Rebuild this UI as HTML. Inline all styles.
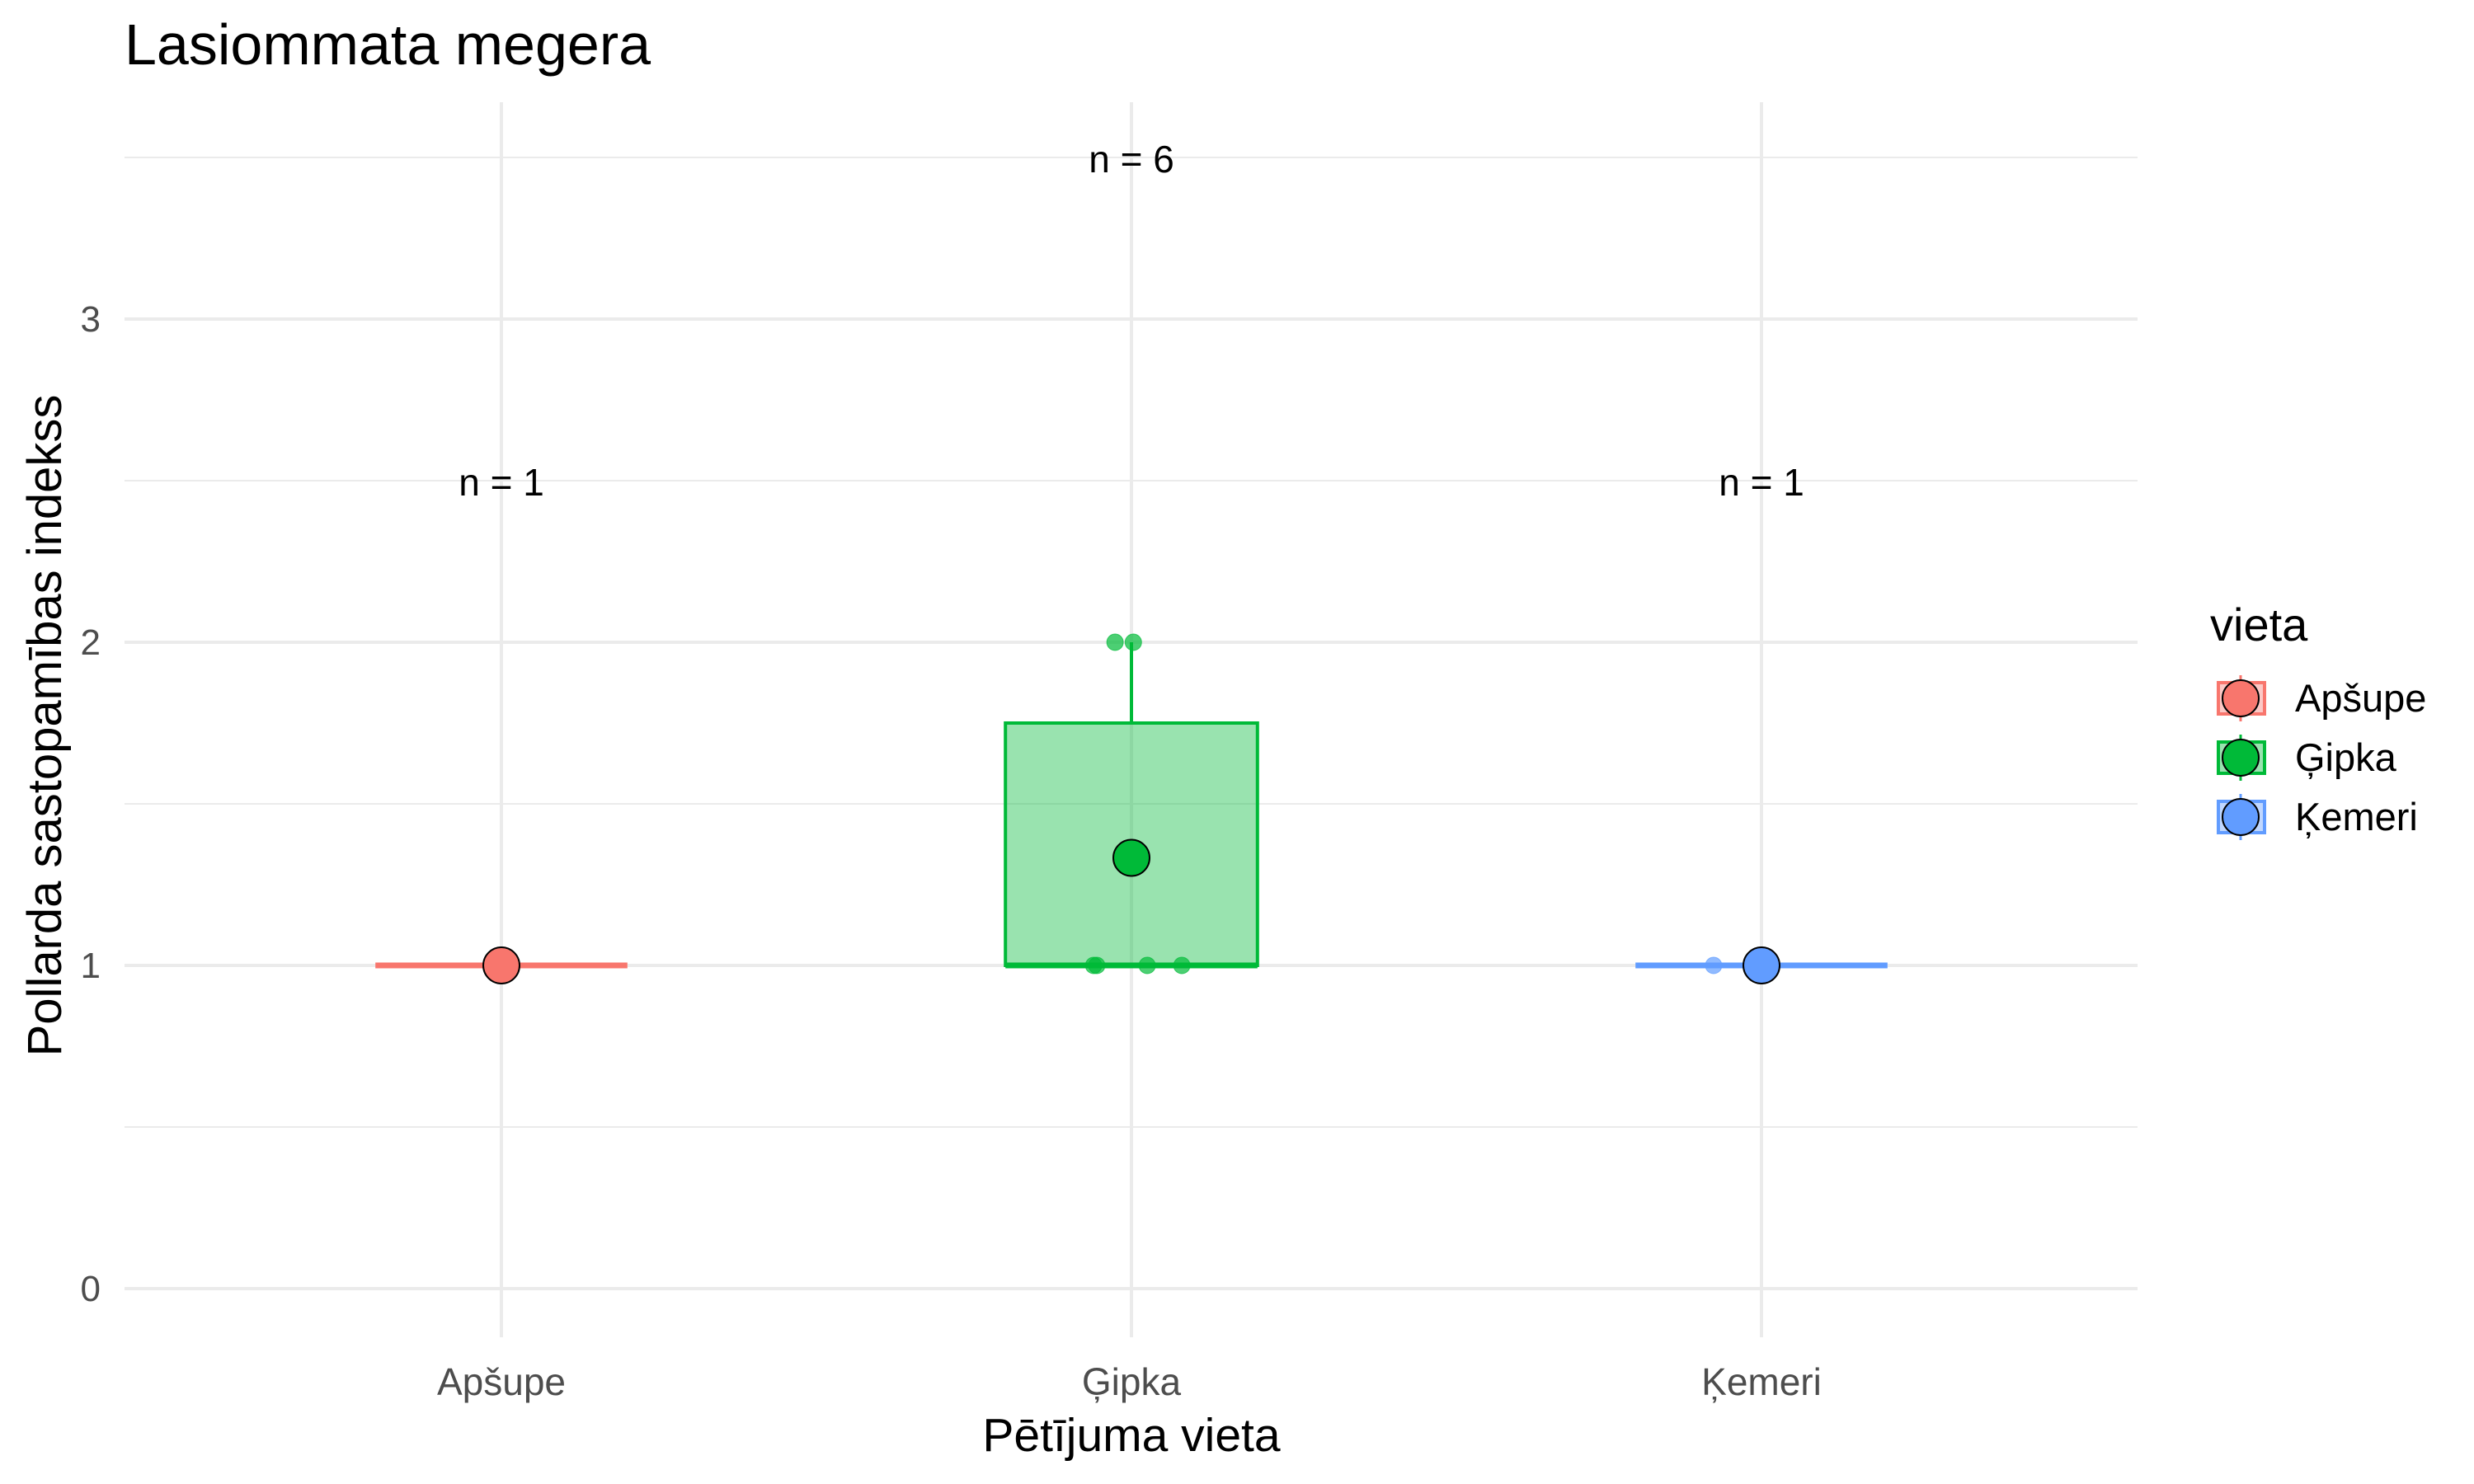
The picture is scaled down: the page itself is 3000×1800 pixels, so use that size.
<!DOCTYPE html>
<html><head><meta charset="utf-8"><style>
html,body{margin:0;padding:0;background:#fff;}
svg{display:block;font-family:"Liberation Sans",Arial,sans-serif;}
</style></head><body>
<svg id="chart" width="3000" height="1800" viewBox="0 0 3000 1800" xmlns="http://www.w3.org/2000/svg">
<text x="151" y="78" font-size="70" fill="#000">Lasiommata megera</text>
<g id="grid"></g>
<g id="marks"></g>
<g id="axes"></g>
<text x="0" y="0" transform="translate(74,880) rotate(-90)" text-anchor="middle" font-size="58" fill="#000">Pollarda sastopamības indekss</text>
<text x="1372" y="1760" text-anchor="middle" font-size="57" fill="#000">Pētījuma vieta</text>
<g id="legend">
<text x="2680" y="777" font-size="56" fill="#000">vieta</text>
</g>
</svg>
<script>
const categories = ["Apšupe", "Ģipka", "Ķemeri"];
const colors = ["#F8766D", "#00BA38", "#619CFF"];
const q1 = [1, 1, 1];
const median = [1, 1, 1];
const q3 = [1, 1.75, 1];
const whiskerLo = [1, 1, 1];
const whiskerHi = [1, 2, 1];
const means = [1, 1.333, 1];
const counts = [1, 6, 1];
const labelY = [2.5, 3.5, 2.5];
const pointCat = [0, 1, 1, 1, 1, 1, 1, 2];
const pointVal = [1, 1, 1, 1, 1, 2, 2, 1];
const pointJit = [0, -0.060, -0.055, 0.025, 0.080, -0.026, 0.003, -0.076];
const yTicks = [0, 1, 2, 3];
const yMinor = [0.5, 1.5, 2.5, 3.5];

const NS = "http://www.w3.org/2000/svg";
const X0 = 608, XSTEP = 764, Y0 = 1563, YUNIT = 392;
const PL = 151, PR = 2592, PT = 124, PB = 1622;
function xs(i){ return X0 + i * XSTEP; }
function ys(v){ return Y0 - v * YUNIT; }
function mk(tag, attrs, parent){
  const e = document.createElementNS(NS, tag);
  for (const k in attrs) e.setAttribute(k, attrs[k]);
  parent.appendChild(e);
  return e;
}
const grid = document.getElementById('grid');
const marks = document.getElementById('marks');
const axes = document.getElementById('axes');
const legend = document.getElementById('legend');

yMinor.forEach(v => {
  const l = mk('line', {x1: PL, x2: PR, y1: ys(v), y2: ys(v), stroke: '#EBEBEB', 'stroke-width': 2}, grid);
  
  
});
yTicks.forEach(v => {
  const l = mk('line', {x1: PL, x2: PR, y1: ys(v), y2: ys(v), stroke: '#EBEBEB', 'stroke-width': 4}, grid);
  
  
  const t = mk('text', {x: 122, y: ys(v) + 15, 'text-anchor': 'end', 'font-size': 44, fill: '#4D4D4D'}, axes);
  t.textContent = String(v);
  
  
});
categories.forEach((c, i) => {
  const l = mk('line', {x1: xs(i), x2: xs(i), y1: PT, y2: PB, stroke: '#EBEBEB', 'stroke-width': 4}, grid);
  
  
  const t = mk('text', {x: xs(i), y: 1692, 'text-anchor': 'middle', 'font-size': 46, fill: '#4D4D4D'}, axes);
  t.textContent = c;
  
  
});

const HW = 0.2 * XSTEP;
categories.forEach((c, i) => {
  const g = mk('g', {}, marks);
  
  
  mk('line', {x1: xs(i), x2: xs(i), y1: ys(q3[i]), y2: ys(whiskerHi[i]), stroke: colors[i], 'stroke-width': 4}, g);
  mk('line', {x1: xs(i), x2: xs(i), y1: ys(q1[i]), y2: ys(whiskerLo[i]), stroke: colors[i], 'stroke-width': 4}, g);
  const h = Math.max(ys(q1[i]) - ys(q3[i]), 0);
  mk('rect', {x: xs(i) - HW, y: ys(q3[i]), width: 2 * HW, height: h, fill: colors[i], 'fill-opacity': 0.4, stroke: colors[i], 'stroke-width': h > 0 ? 4 : 7}, g);
  mk('line', {x1: xs(i) - HW, x2: xs(i) + HW, y1: ys(median[i]), y2: ys(median[i]), stroke: colors[i], 'stroke-width': 7}, g);
  const t = mk('text', {x: xs(i), y: ys(labelY[i]) + 18, 'text-anchor': 'middle', 'font-size': 46, fill: '#000'}, marks);
  t.textContent = 'n = ' + counts[i];
  
  
});
pointCat.forEach((ci, k) => {
  const p = mk('circle', {cx: xs(ci) + pointJit[k] * XSTEP, cy: ys(pointVal[k]), r: 10, fill: colors[ci], 'fill-opacity': 0.7, stroke: colors[ci], 'stroke-opacity': 0.7, 'stroke-width': 1}, marks);
  
  
});
categories.forEach((c, i) => {
  const p = mk('circle', {cx: xs(i), cy: ys(means[i]), r: 22, fill: colors[i], stroke: '#000', 'stroke-width': 2}, marks);
  
  
});

categories.forEach((c, i) => {
  const cy = 847 + i * 72;
  const g = mk('g', {}, legend);
  
  
  mk('rect', {x: 2690, y: cy - 19, width: 56, height: 38, fill: colors[i], 'fill-opacity': 0.4, stroke: colors[i], 'stroke-width': 4}, g);
  mk('line', {x1: 2717, x2: 2717, y1: cy - 28, y2: cy + 28, stroke: colors[i], 'stroke-width': 3}, g);
  mk('circle', {cx: 2717, cy: cy, r: 22, fill: colors[i], stroke: '#000', 'stroke-width': 2}, g);
  const t = mk('text', {x: 2783, y: cy + 16, 'font-size': 47, fill: '#000'}, g);
  t.textContent = c;
});
</script>
</body></html>
